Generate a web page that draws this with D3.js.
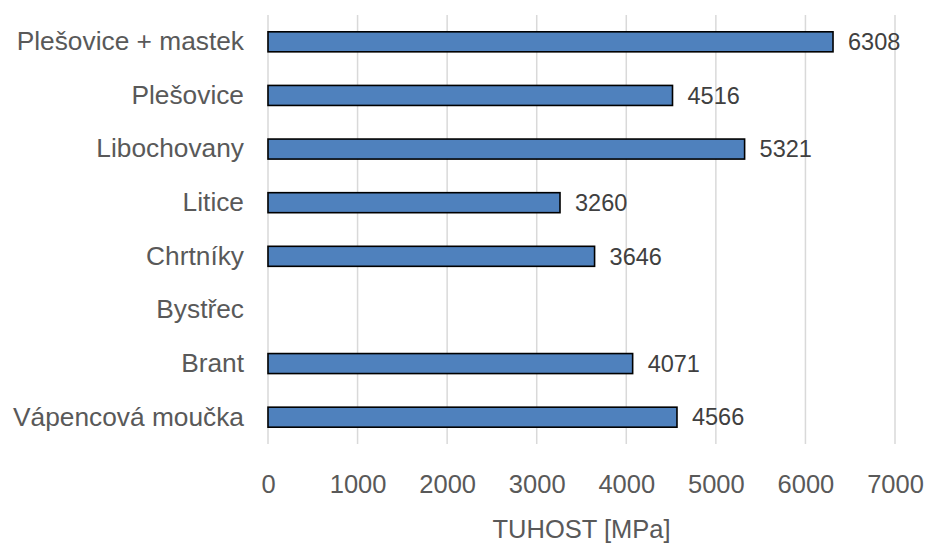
<!DOCTYPE html>
<html>
<head>
<meta charset="utf-8">
<script src="https://cdn.jsdelivr.net/npm/d3@7"></script>
<style>
  html, body { margin: 0; padding: 0; background: #fff; }
  svg { display: block; font-family: "Liberation Sans", Arial, sans-serif; }
</style>
</head>
<body>
<svg id="chart" width="925" height="543"></svg>
<script>
// Stiffness by material (MPa); Bystřec has no measured value
const categories = ["Plešovice + mastek", "Plešovice", "Libochovany", "Litice", "Chrtníky", "Bystřec", "Brant", "Vápencová moučka"];
const values = [6308, 4516, 5321, 3260, 3646, null, 4071, 4566];
const xTicks = [0, 1000, 2000, 3000, 4000, 5000, 6000, 7000];
const axisTitle = "TUHOST [MPa]";

const svg = d3.select("#chart");
const margin = { left: 268, right: 30, top: 15, bottom: 99 };
const W = 925, H = 543;
const textColor = "#595959";

const x = d3.scaleLinear().domain([0, 7000]).range([margin.left, margin.left + 627]);
const y = d3.scaleBand().domain(categories).range([margin.top, H - margin.bottom]).paddingInner(0.627).paddingOuter(0.3135);

// vertical gridlines
svg.append("g")
  .selectAll("line")
  .data(xTicks)
  .join("line")
  .attr("x1", d => x(d)).attr("x2", d => x(d))
  .attr("y1", margin.top).attr("y2", H - margin.bottom)
  .attr("stroke", "#d9d9d9").attr("stroke-width", 1.5);

// bars
const data = categories.map((c, i) => ({ c, v: values[i] })).filter(d => d.v != null);
svg.append("g")
  .selectAll("rect")
  .data(data)
  .join("rect")
  .attr("x", x(0))
  .attr("y", d => y(d.c))
  .attr("width", d => x(d.v) - x(0))
  .attr("height", y.bandwidth())
  .attr("fill", "#4f81bd")
  .attr("stroke", "#000").attr("stroke-width", 1.6);

// value labels
svg.append("g")
  .selectAll("text")
  .data(data)
  .join("text")
  .attr("x", d => x(d.v) + 15)
  .attr("y", d => y(d.c) + y.bandwidth() / 2)
  .attr("dy", "0.35em")
  .attr("fill", "#404040")
  .attr("font-size", 23.5)
  .text(d => d.v);

// category axis
const yAxis = svg.append("g")
  .attr("transform", `translate(${margin.left},0)`)
  .call(d3.axisLeft(y).tickSize(0).tickPadding(24));
yAxis.select(".domain").remove();
yAxis.selectAll("text")
  .attr("fill", textColor)
  .attr("font-size", 26.3)
  .attr("font-family", "Liberation Sans, Arial, sans-serif");

// value axis
const xAxis = svg.append("g")
  .attr("transform", `translate(0,${H - margin.bottom})`)
  .call(d3.axisBottom(x).tickValues(xTicks).tickFormat(d3.format("d")).tickSize(0).tickPadding(31));
xAxis.select(".domain").remove();
xAxis.selectAll("text")
  .attr("fill", textColor)
  .attr("font-size", 25.5)
  .attr("font-family", "Liberation Sans, Arial, sans-serif");

// axis title
svg.append("text")
  .attr("x", (x(0) + x(7000)) / 2)
  .attr("y", 538)
  .attr("text-anchor", "middle")
  .attr("fill", textColor)
  .attr("font-size", 25.5)
  .text(axisTitle);
</script>
</body>
</html>
